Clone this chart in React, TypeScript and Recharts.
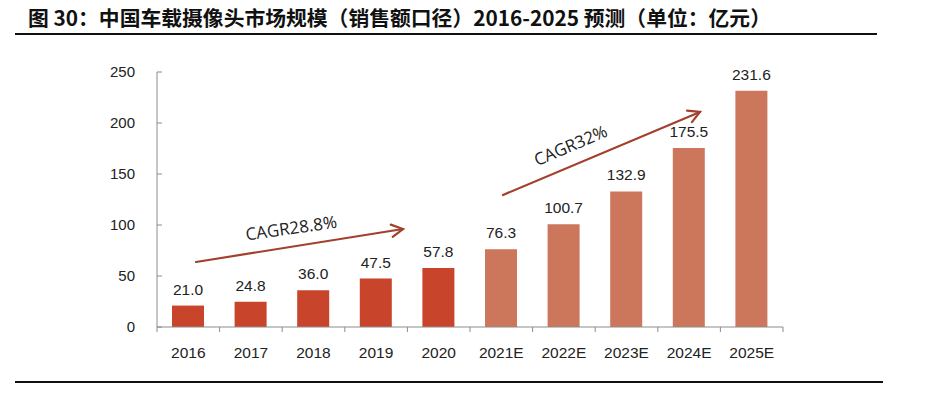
import React from 'react';
import { BarChart, Bar, XAxis, YAxis, Cell, LabelList } from 'recharts';

const years = ['2016', '2017', '2018', '2019', '2020', '2021E', '2022E', '2023E', '2024E', '2025E'];
const marketSize = [21.0, 24.8, 36.0, 47.5, 57.8, 76.3, 100.7, 132.9, 175.5, 231.6];
const isForecast = [false, false, false, false, false, true, true, true, true, true];
const yTicks = [0, 50, 100, 150, 200, 250];

const data = years.map((year, i) => ({ year, value: marketSize[i], forecast: isForecast[i] }));

const ACTUAL = '#c8442a';
const FORECAST = '#cc765c';
const ARROW = '#a3402c';
const AXIS = '#8c8c8c';
const FONT = '"Liberation Sans", Arial, sans-serif';

// x tick: label plus the small boundary marks between categories
const XTick = (props: any) => {
  const { x, y, payload, width, visibleTicksCount } = props;
  const band = (width || 626) / (visibleTicksCount || 10);
  const axisY = y - 8;
  return (
    <g>
      <line x1={x - band / 2} x2={x - band / 2} y1={axisY} y2={axisY + 5} stroke={AXIS} />
      {payload.index === years.length - 1 && (
        <line x1={x + band / 2} x2={x + band / 2} y1={axisY} y2={axisY + 5} stroke={AXIS} />
      )}
      <text x={x} y={axisY + 31} textAnchor="middle" fontSize={15.5} fill="#222" fontFamily={FONT}>
        {payload.value}
      </text>
    </g>
  );
};

const Arrow = ({ x1, y1, x2, y2 }: { x1: number; y1: number; x2: number; y2: number }) => {
  const a = Math.atan2(y2 - y1, x2 - x1);
  const len = 13;
  const spread = 0.5;
  const p1 = [x2 - len * Math.cos(a - spread), y2 - len * Math.sin(a - spread)];
  const p2 = [x2 - len * Math.cos(a + spread), y2 - len * Math.sin(a + spread)];
  return (
    <g stroke={ARROW} strokeWidth={2.2} fill="none" strokeLinecap="round">
      <line x1={x1} y1={y1} x2={x2} y2={y2} />
      <polyline points={`${p1[0]},${p1[1]} ${x2},${y2} ${p2[0]},${p2[1]}`} />
    </g>
  );
};

export default function App() {
  return (
    <div style={{ position: 'absolute', left: 0, top: 0, width: 940, height: 396, background: '#fff' }}>
      <div
        style={{
          position: 'absolute',
          left: 28,
          top: 2,
          fontFamily: '"Noto Sans CJK SC", sans-serif',
          fontWeight: 700,
          fontSize: 20.8,
          color: '#111',
          whiteSpace: 'nowrap',
        }}
      >
        图 30：中国车载摄像头市场规模（销售额口径）2016-2025 预测（单位：亿元）
      </div>
      <div style={{ position: 'absolute', left: 15, top: 33, width: 862, height: 2, background: '#111' }} />
      <div style={{ position: 'absolute', left: 15, top: 381, width: 868, height: 2, background: '#111' }} />
      <div style={{ position: 'absolute', left: 0, top: 0 }}>
        <BarChart width={940} height={396} data={data} margin={{ top: 72, right: 157, bottom: 39, left: 97 }}>
          <XAxis
            dataKey="year"
            height={30}
            stroke={AXIS}
            tickLine={false}
            interval={0}
            tick={<XTick />}
          />
          <YAxis
            width={60}
            domain={[0, 250]}
            ticks={yTicks}
            stroke={AXIS}
            tickSize={-5}
            tickMargin={27}
            tick={{ fontSize: 15, fill: '#222', fontFamily: FONT }}
          />
          <Bar dataKey="value" barSize={32} isAnimationActive={false}>
            {data.map((d) => (
              <Cell key={d.year} fill={d.forecast ? FORECAST : ACTUAL} />
            ))}
            <LabelList
              dataKey="value"
              position="top"
              offset={11}
              formatter={(v: any) => Number(v).toFixed(1)}
              style={{ fontSize: 15.5, fill: '#222', fontFamily: FONT }}
            />
          </Bar>
          <Arrow x1={196} y1={262} x2={403} y2={229} />
          <text
            x={292}
            y={234}
            textAnchor="middle"
            fontSize={17}
            fill="#222"
            fontFamily='"Open Sans", sans-serif'
            transform="rotate(-8 292 234)"
          >
            CAGR28.8%
          </text>
          <Arrow x1={503} y1={195} x2={700} y2={112} />
          <text
            x={573}
            y={151}
            textAnchor="middle"
            fontSize={17}
            fill="#222"
            fontFamily='"Open Sans", sans-serif'
            transform="rotate(-23 573 151)"
          >
            CAGR32%
          </text>
        </BarChart>
      </div>
    </div>
  );
}
